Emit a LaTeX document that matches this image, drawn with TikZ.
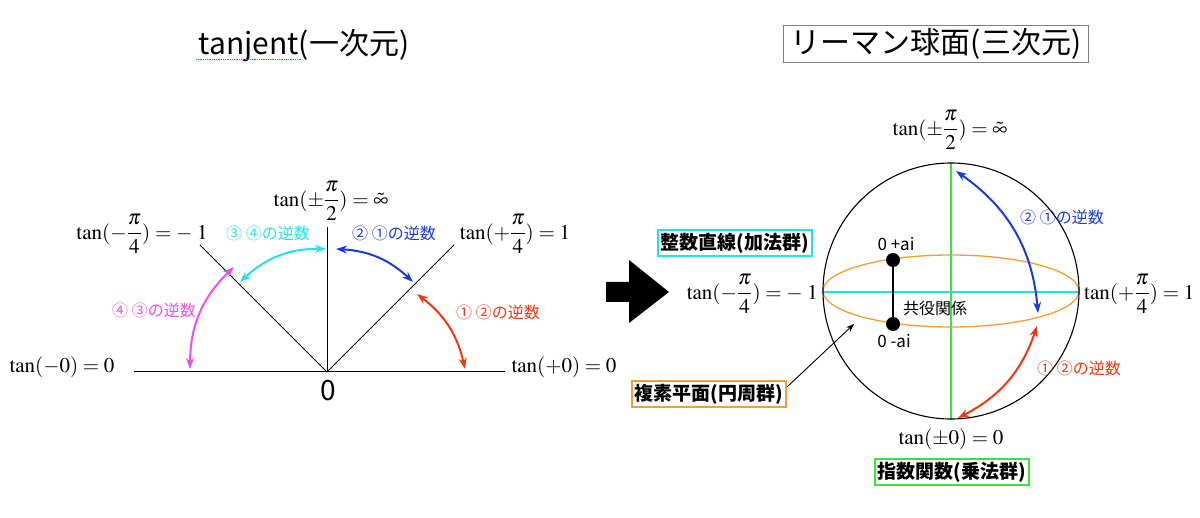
\documentclass[tikz,border=0pt]{standalone}
\usepackage{amsmath}
\usepackage{mathptmx}
\usepackage[no-math]{fontspec}
\newfontfamily\jp{Noto Sans CJK JP}
\usetikzlibrary{arrows.meta}
\definecolor{cblue}{RGB}{25,60,215}
\definecolor{ccyan}{RGB}{35,225,235}
\definecolor{cmag}{RGB}{235,80,235}
\definecolor{cred}{RGB}{240,55,20}
\definecolor{corange}{RGB}{240,160,50}
\definecolor{cgreen}{RGB}{60,225,60}
\begin{document}
\begin{tikzpicture}[x=1pt,y=-1pt,
  mathlbl/.style={inner sep=0pt,font=\fontsize{21}{25}\selectfont},
  jplbl/.style={inner sep=0pt,font=\jp\fontsize{16}{19}\selectfont},
  boxlbl/.style={draw,line width=2.5pt,inner sep=3pt,font=\jp\bfseries\fontsize{19}{22}\selectfont},
  axis/.style={line width=1pt},
  dbl/.style={line width=2pt,{Stealth[length=11pt,width=8pt]}-{Stealth[length=11pt,width=8pt]}},
  dot/.style={circle,fill=black,inner sep=0pt,minimum size=14pt}
]
\useasboundingbox (0,0) rectangle (1200,518);
% ---------- left : tanjent ----------
\node[inner sep=0pt,font=\jp\fontsize{30}{34}\selectfont] (t1) at (304,46) {tanjent(一次元)};
\coordinate (sq1) at (196,59);
\coordinate (sq2) at (301,59);
\draw[cred,densely dotted,line width=0.8pt] (sq1) -- (sq2);

\coordinate (O) at (327,372);
\coordinate (hl) at (134,372);
\coordinate (hr) at (505,372);
\coordinate (vt) at (327,227);
\coordinate (dl) at (200,245);
\coordinate (dr) at (454,245);
\draw[axis] (hl) -- (hr);
\draw[axis] (O) -- (vt);
\draw[axis] (O) -- (dl);
\draw[axis] (O) -- (dr);
\node[inner sep=0pt,font=\jp\fontsize{28}{32}\selectfont] (zero) at (328,391) {0};

\node[mathlbl] (lm0) at (62,367) {$\tan(-0)=0$};
\node[mathlbl] (lp0) at (564,367) {$\tan(+0)=0$};
\node[mathlbl] (lpi2) at (331,201) {$\tan(\pm\dfrac{\pi}{2})=\tilde{\infty}$};
\node[mathlbl] (lmpi4) at (142,234) {$\tan(-\dfrac{\pi}{4})=-\;1$};
\node[mathlbl] (lppi4) at (515,234) {$\tan(+\dfrac{\pi}{4})=1$};

\node[jplbl,text=ccyan] (lc) at (268,233) {③ ④の逆数};
\node[jplbl,text=cblue] (lb) at (394,233) {② ①の逆数};
\node[jplbl,text=cmag] (lmg) at (154,310) {④ ③の逆数};
\node[jplbl,text=cred] (lr) at (498,312) {① ②の逆数};

\coordinate (b1) at (336,249);
\coordinate (b2) at (413,282);
\coordinate (c1) at (240,282);
\coordinate (c2) at (326,249);
\coordinate (m1) at (190,369);
\coordinate (m2) at (234,267);
\coordinate (r1) at (417,294);
\coordinate (r2) at (465,369);
\draw[dbl,cblue] (b1) to[bend left=20] (b2);
\draw[dbl,ccyan] (c1) to[bend left=22] (c2);
\draw[dbl,cmag] (m1) to[bend left=23] (m2);
\draw[dbl,cred] (r1) to[bend left=20] (r2);

% ---------- big arrow ----------
\fill (606,282) -- (629,282) -- (629,260) -- (669,292) -- (629,323) -- (629,302) -- (606,302) -- cycle;

% ---------- right : Riemann sphere ----------
\node[draw=gray,line width=1pt,minimum width=305pt,minimum height=37pt,inner sep=0pt,font=\jp\fontsize{30}{34}\selectfont] (t2) at (936,44) {リーマン球面(三次元)};

\coordinate (C) at (951,291);
\coordinate (gt) at (951,163);
\coordinate (gb) at (951,419);
\coordinate (cl) at (823,292);
\coordinate (cr) at (1079,292);
\draw[cgreen,line width=1.2pt] (gt) -- (gb);
\draw[ccyan,line width=1.2pt] (cl) -- (cr);
\draw[corange,line width=1.3pt] (C) ellipse[x radius=128pt,y radius=36pt];
\draw[line width=1.1pt] (C) circle[radius=128pt];

\node[dot] (dtop) at (893,260) {};
\node[dot] (dbot) at (893,324) {};
\draw[line width=1.1pt] (dtop) -- (dbot);
\node[inner sep=0pt,font=\jp\fontsize{17}{20}\selectfont] (pai) at (896,244) {0 +ai};
\node[inner sep=0pt,font=\jp\fontsize{17}{20}\selectfont] (mai) at (894,341) {0 -ai};
\node[inner sep=0pt,font=\jp\fontsize{16}{19}\selectfont] (kyo) at (935,308) {共役関係};

\node[mathlbl] (rpi2) at (950,130) {$\tan(\pm\dfrac{\pi}{2})=\tilde{\infty}$};
\node[mathlbl] (r0) at (951,439) {$\tan(\pm0)=0$};
\node[mathlbl,anchor=east] (rmpi4) at (818,294) {$\tan(-\dfrac{\pi}{4})=-\;1$};
\node[mathlbl,anchor=west] (rppi4) at (1084,294) {$\tan(+\dfrac{\pi}{4})=1$};

\node[boxlbl,draw=ccyan] (seisu) at (735,243) {整数直線(加法群)};
\node[boxlbl,draw=corange] (fukuso) at (709,394) {複素平面(円周群)};
\node[boxlbl,draw=cgreen] (shisu) at (952,472) {指数関数(乗法群)};

\coordinate (ellpt) at (854,324);
\draw[line width=0.9pt,-{Stealth[length=8pt,width=6pt]}] ([yshift=-7pt]fukuso.north east) -- (ellpt);

\node[jplbl,text=cblue] (rb) at (1062,217) {② ①の逆数};
\node[jplbl,text=cred] (rr) at (1079,368) {① ②の逆数};
\coordinate (rb1) at (956,171);
\coordinate (rb2) at (1038,313);
\coordinate (rr1) at (1037,326);
\coordinate (rr2) at (958,418);
\draw[dbl,cblue] (rb1) to[bend left=25] (rb2);
\draw[dbl,cred] (rr1) to[bend left=22] (rr2);
\end{tikzpicture}
\end{document}
